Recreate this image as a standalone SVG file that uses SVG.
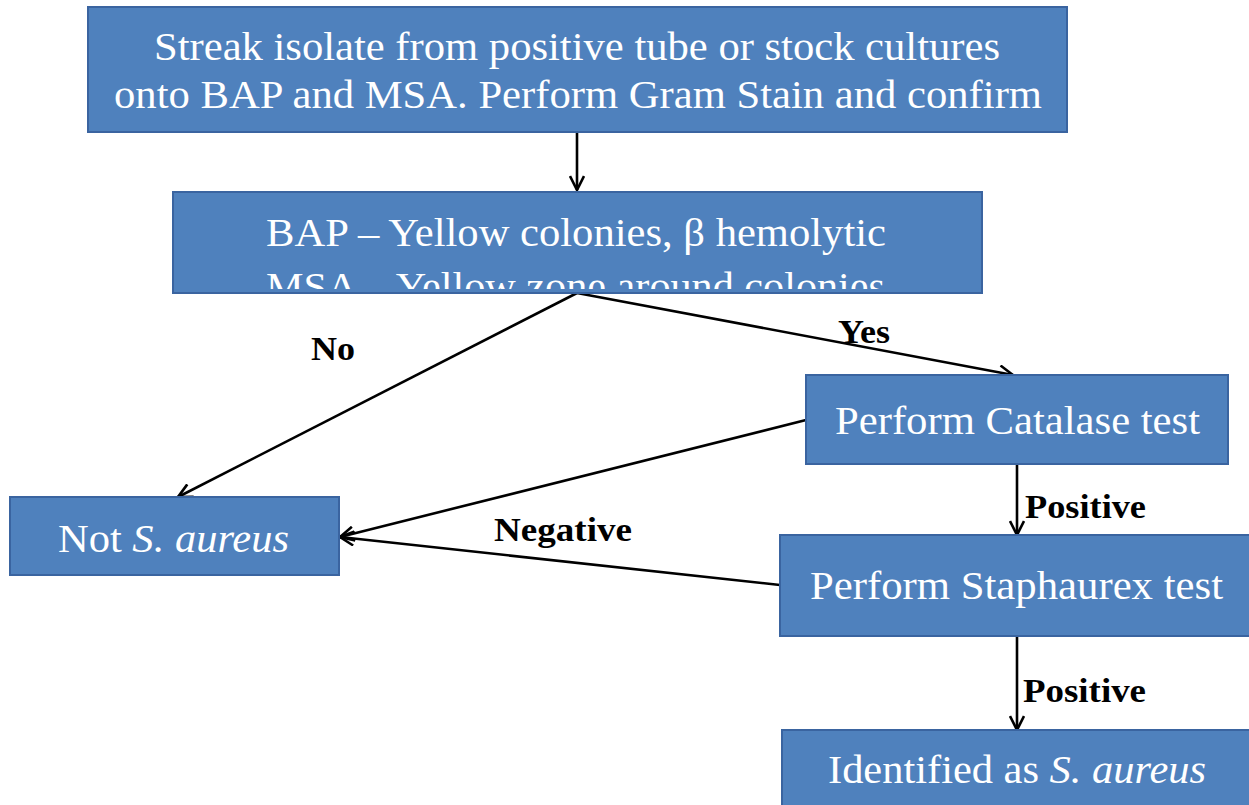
<svg xmlns="http://www.w3.org/2000/svg" width="1249" height="805" viewBox="0 0 1249 805">
<style>
.box{fill:#4F81BD;stroke:#3A64A0;stroke-width:2}
.t{font-family:"Liberation Serif","Times New Roman",serif;font-size:40px;fill:#FFFFFF;text-anchor:start}
.lbl{font-family:"Liberation Serif","Times New Roman",serif;font-size:33px;font-weight:bold;fill:#000000}
.c{fill:none;stroke:#000000;stroke-width:2.6}
</style>
<defs>
<marker id="ah" viewBox="0 0 16 16" refX="15" refY="8" markerWidth="16" markerHeight="16" markerUnits="userSpaceOnUse" orient="auto">
<path d="M1,1 L15,8 L1,15" fill="none" stroke="#000000" stroke-width="2.6"/>
</marker>
<clipPath id="clip2"><rect x="173" y="192" width="809" height="97"/></clipPath>
</defs>
<rect width="1249" height="805" fill="#FFFFFF"/>
<g id="connectors">
<line class="c" x1="577" y1="133" x2="577" y2="190" marker-end="url(#ah)"/>
<line class="c" x1="577" y1="293" x2="178" y2="497" marker-end="url(#ah)"/>
<line class="c" x1="577" y1="293" x2="1013" y2="375" marker-end="url(#ah)"/>
<line class="c" x1="806" y1="420" x2="340" y2="537" marker-end="url(#ah)"/>
<line class="c" x1="780" y1="585" x2="340" y2="537" marker-end="url(#ah)"/>
<line class="c" x1="1017" y1="464" x2="1017" y2="535" marker-end="url(#ah)"/>
<line class="c" x1="1017" y1="636" x2="1017" y2="730" marker-end="url(#ah)"/>
<text class="lbl" x="311" y="360" textLength="44" lengthAdjust="spacingAndGlyphs">No</text>
<text class="lbl" x="838" y="343" textLength="52" lengthAdjust="spacingAndGlyphs">Yes</text>
<text class="lbl" x="494" y="541" textLength="138" lengthAdjust="spacingAndGlyphs">Negative</text>
<text class="lbl" x="1025" y="518" textLength="121" lengthAdjust="spacingAndGlyphs">Positive</text>
<text class="lbl" x="1023" y="702" textLength="123" lengthAdjust="spacingAndGlyphs">Positive</text>
</g>
<g id="node-streak">
<rect class="box" x="88" y="7" width="979" height="125"/>
<text class="t" x="154" y="60" textLength="846" lengthAdjust="spacingAndGlyphs">Streak isolate from positive tube or stock cultures</text>
<text class="t" x="114" y="108" textLength="928" lengthAdjust="spacingAndGlyphs">onto BAP and MSA. Perform Gram Stain and confirm</text>
</g>
<g id="node-bap">
<rect class="box" x="173" y="192" width="809" height="101"/>
<g clip-path="url(#clip2)">
<text class="t" x="266" y="246" textLength="620" lengthAdjust="spacingAndGlyphs">BAP – Yellow colonies, β hemolytic</text>
<text class="t" x="266" y="300" textLength="619" lengthAdjust="spacingAndGlyphs">MSA – Yellow zone around colonies</text>
</g>
</g>
<g id="node-catalase">
<rect class="box" x="806" y="375" width="422" height="89"/>
<text class="t" x="835" y="434" textLength="365" lengthAdjust="spacingAndGlyphs">Perform Catalase test</text>
</g>
<g id="node-staphaurex">
<rect class="box" x="780" y="535" width="480" height="101"/>
<text class="t" x="810" y="599" textLength="413" lengthAdjust="spacingAndGlyphs">Perform Staphaurex test</text>
</g>
<g id="node-identified">
<rect class="box" x="782" y="730" width="478" height="90"/>
<text class="t" x="828" y="783" textLength="378" lengthAdjust="spacingAndGlyphs">Identified as <tspan font-style="italic">S. aureus</tspan></text>
</g>
<g id="node-not">
<rect class="box" x="10" y="497" width="329" height="78"/>
<text class="t" x="58" y="552" textLength="231" lengthAdjust="spacingAndGlyphs">Not <tspan font-style="italic">S. aureus</tspan></text>
</g>
</svg>
